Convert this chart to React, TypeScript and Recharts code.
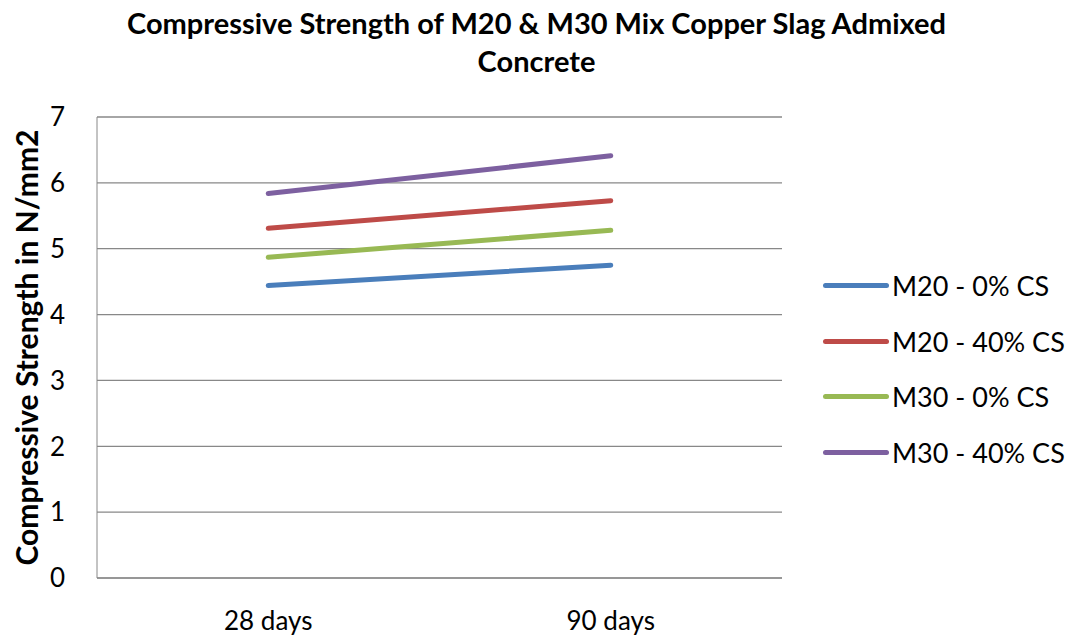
import React from "react";
import { LineChart, Line, XAxis, YAxis, CartesianGrid, Legend } from "recharts";

const categories = ["28 days", "90 days"];
const m20_0 = [4.44, 4.75];
const m20_40 = [5.31, 5.73];
const m30_0 = [4.87, 5.28];
const m30_40 = [5.84, 6.41];
const yTicks = [0, 1, 2, 3, 4, 5, 6, 7];
const seriesNames = ["M20 - 0% CS", "M20 - 40% CS", "M30 - 0% CS", "M30 - 40% CS"];
const seriesColors = ["#4a7ebb", "#be4b48", "#98b954", "#7d60a0"];

const data = categories.map((c, i) => ({
  name: c,
  s0: m20_0[i],
  s1: m20_40[i],
  s2: m30_0[i],
  s3: m30_40[i],
}));

const FONT = "Lato, 'Open Sans', sans-serif";

const renderLegend = () => (
  <div style={{ fontFamily: FONT }}>
    {seriesNames.map((n, i) => (
      <div key={n} style={{ display: "flex", alignItems: "center", height: 55.5 }}>
        <div style={{ width: 66, height: 5, borderRadius: 3, background: seriesColors[i], marginRight: 3 }} />
        <span style={{ fontSize: 27, color: "#000" }}>{n}</span>
      </div>
    ))}
  </div>
);

export default function App() {
  return (
    <div style={{ position: "absolute", left: 0, top: 0, width: 1073, height: 637, background: "#fff", fontFamily: FONT }}>
      <div style={{ position: "absolute", left: 0, top: 4, width: 1073, textAlign: "center", fontWeight: 700, fontSize: 29, lineHeight: "38px", color: "#000" }}>
        Compressive Strength of M20 &amp; M30 Mix Copper Slag Admixed
        <br />
        Concrete
      </div>
      <LineChart width={1073} height={637} data={data} margin={{ top: 117, right: 291, bottom: 29, left: 0 }}>
        <CartesianGrid vertical={false} stroke="#888" strokeWidth={1.3} />
        <XAxis
          dataKey="name"
          scale="band"
          height={30}
          stroke="#888"
          tickLine={false}
          tickMargin={28}
          tick={{ fill: "#000", fontSize: 26, fontFamily: FONT }}
        />
        <YAxis
          width={97}
          domain={[0, 7]}
          ticks={yTicks}
          stroke="#888"
          tickLine={false}
          tickMargin={26}
          tick={{ fill: "#000", fontSize: 26, fontFamily: FONT }}
          label={{
            value: "Compressive Strength in N/mm2",
            angle: -90,
            position: "insideLeft",
            dx: 22,
            style: { textAnchor: "middle", fontWeight: 700, fontSize: 30, fill: "#000", fontFamily: FONT },
          }}
        />
        <Legend
          content={renderLegend}
          layout="horizontal"
          verticalAlign="middle"
          align="center"
          wrapperStyle={{ position: "absolute", left: 823, top: 258, width: 250 }}
        />
        {["s0", "s1", "s2", "s3"].map((k, i) => (
          <Line
            key={k}
            dataKey={k}
            name={seriesNames[i]}
            stroke={seriesColors[i]}
            strokeWidth={5}
            strokeLinecap="round"
            dot={false}
            activeDot={false}
            isAnimationActive={false}
          />
        ))}
      </LineChart>
    </div>
  );
}
